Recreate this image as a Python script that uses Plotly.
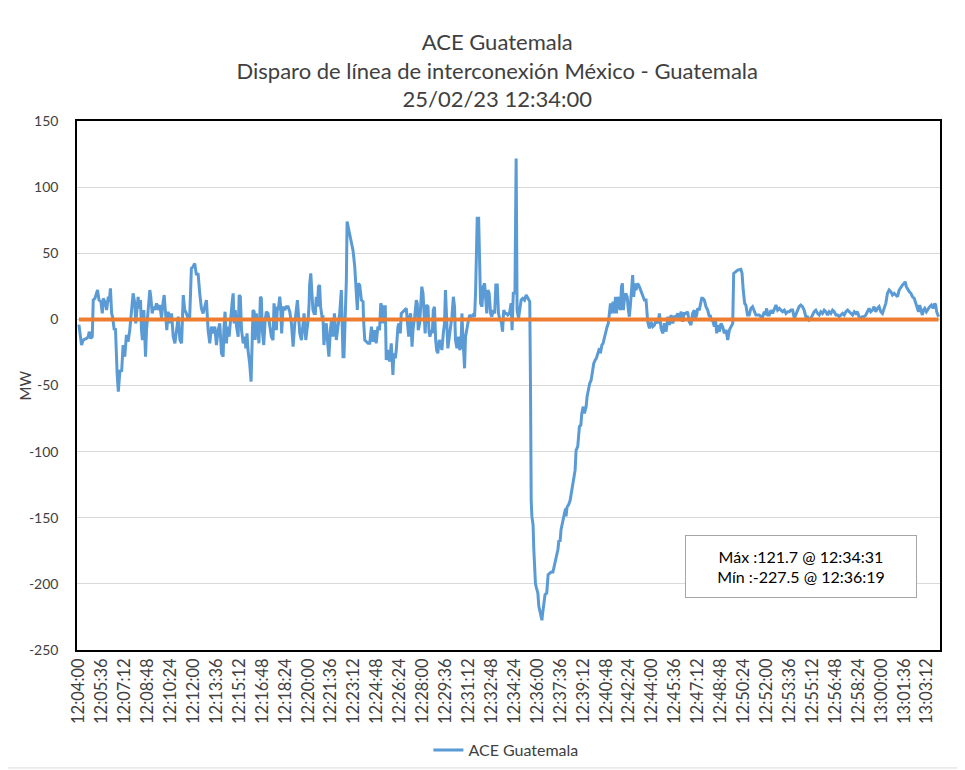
import pandas as pd
import plotly.graph_objects as go

start_time = "2023-02-25 12:04:00"

# seconds after 12:04:00 and ACE value (MW)
seconds = [
    0, 11, 18, 32, 39, 43, 49, 56, 60, 67, 78, 84, 92, 98, 102, 109, 116, 123, 127, 132, 137, 141, 148, 153,
    160, 165, 172, 179, 185, 192, 199, 206, 213, 220, 227, 234, 238, 243, 248, 252, 258, 262, 266, 272, 279,
    283, 290, 297, 301, 307, 312, 318, 325, 332, 339, 346, 350, 357, 363, 368, 374, 381, 388, 395, 402, 409,
    416, 423, 430, 437, 443, 450, 457, 464, 471, 478, 485, 492, 499, 506, 513, 520, 527, 534, 541, 548, 555,
    562, 569, 576, 583, 590, 597, 604,
    607, 612, 618, 622, 629, 636, 642, 646, 650, 655, 660, 667, 671, 676, 681, 688, 695, 699, 704, 708, 715,
    721, 725, 729, 734, 738, 743, 749, 754, 760, 764, 768, 774, 780, 785, 792, 799, 806, 813, 817, 821, 827,
    831, 835, 841, 845, 849, 855, 862, 869, 876, 883, 890, 897, 904, 911, 915, 920, 925, 932, 939, 943, 950,
    955, 960, 964, 966, 971, 975, 980, 985, 990, 994, 999, 1003, 1008, 1012, 1018, 1022, 1026, 1031, 1036,
    1043, 1047, 1053, 1058, 1064, 1070, 1074, 1078, 1085, 1092, 1099, 1103, 1106, 1110, 1116, 1120, 1123,
    1127, 1134, 1141, 1148, 1155, 1162, 1166, 1170, 1176, 1183, 1190, 1192, 1197, 1204, 1211,
    1218, 1225, 1232, 1238, 1245, 1252, 1259, 1264, 1269, 1273, 1277, 1283, 1287, 1294, 1301, 1308, 1315,
    1319, 1325, 1329, 1336, 1340, 1346, 1350, 1357, 1364, 1371, 1375, 1381, 1385, 1389, 1395, 1399, 1406,
    1413, 1417, 1421, 1427, 1431, 1436, 1441, 1445, 1450, 1455, 1462, 1466, 1470, 1476, 1480, 1484, 1489,
    1494, 1498, 1503, 1509, 1515, 1520, 1526, 1531, 1535, 1540, 1545, 1551, 1556, 1562, 1568, 1573, 1577,
    1583, 1590, 1595, 1600, 1604, 1608, 1612, 1615, 1619, 1623, 1629, 1636, 1643, 1650, 1657, 1661, 1665,
    1668, 1674, 1678, 1682, 1688, 1693, 1699, 1704, 1708, 1713, 1718, 1724, 1729, 1735, 1741, 1746, 1752,
    1757, 1763, 1768, 1774, 1779, 1785, 1791, 1796, 1803, 1810, 1814, 1819, 1826, 1831,
    1835, 1841, 1846, 1852, 1859, 1866, 1873, 1880, 1888, 1891, 1893, 1894, 1897, 1902, 1905, 1908, 1912,
    1916, 1922, 1926, 1931, 1936, 1939, 1941, 1947, 1952, 1959, 1965, 1971, 1978, 1985, 1992, 1999, 2006,
    2010, 2015, 2019, 2026, 2033, 2038, 2040, 2044, 2051, 2057, 2061, 2068, 2072, 2078, 2082, 2089, 2096,
    2102, 2106, 2112, 2117, 2124, 2128, 2134, 2139, 2145, 2151, 2156, 2162, 2167, 2173, 2177, 2180, 2184,
    2190, 2195, 2201, 2206, 2212, 2217, 2222, 2226, 2229, 2233, 2237, 2243, 2247, 2251, 2257, 2262, 2268,
    2272, 2276, 2280, 2284, 2290, 2296, 2301, 2305, 2309, 2315, 2319, 2323, 2329, 2333, 2340, 2347, 2354,
    2361, 2368,
    2375, 2382, 2389, 2396, 2403, 2410, 2417, 2424, 2431, 2438, 2445, 2452, 2459, 2466, 2473, 2480, 2487,
    2494, 2501, 2508, 2515, 2522, 2528, 2535, 2542, 2549, 2556, 2563, 2570, 2577, 2581, 2587, 2591, 2598,
    2602, 2608, 2612, 2619, 2626, 2633, 2640, 2644, 2648, 2654, 2661, 2665, 2671, 2675, 2682, 2689, 2696,
    2703, 2710, 2717, 2724, 2731, 2738, 2742, 2749, 2759, 2772, 2777, 2782, 2788, 2793, 2800, 2807, 2814,
    2821, 2828, 2835, 2842, 2849, 2856, 2863, 2870, 2874, 2880, 2885, 2891, 2898, 2905, 2912, 2919, 2926,
    2933, 2940, 2947, 2954, 2961, 2968, 2975, 2982,
    2989, 2996, 3002, 3009, 3016, 3023, 3030, 3037, 3044, 3051, 3058, 3065, 3072, 3079, 3086, 3093, 3100,
    3107, 3114, 3121, 3128, 3135, 3142, 3149, 3156, 3163, 3170, 3177, 3184, 3191, 3198, 3205, 3212, 3219,
    3226, 3233, 3240, 3247, 3254, 3260, 3267, 3274, 3281, 3288, 3295, 3302, 3309, 3316, 3323, 3330, 3337,
    3344, 3351, 3358, 3365, 3372, 3379, 3386, 3393, 3400, 3407, 3414, 3421, 3428, 3435, 3442, 3449, 3456,
    3460, 3465, 3471, 3477, 3484, 3491, 3498, 3504, 3511, 3516, 3521, 3525, 3532, 3537, 3542, 3549, 3556,
    3563, 3570, 3577, 3584, 3588, 3592, 3597, 3600,
]

ace_mw = [
    -4, -19.4, -15.6, -14.4, -13.1, -9.3, -14.4, -13.1, 14.6, 15.9, 22.2, 14.6, 13.4, 4.5, 15.9, 13.4, 7.1,
    17.1, 13.4, 23.4, 4.5, 2.0, -8.1, -6.8, -40.8, -54.7, -38.3, -39.6, -19.4, -28.2, -11.8, -16.9, -8.1,
    4.5, 19.7, 12.1, -3.0, 7.1, 17.1, 8.3, 14.6, -8.1, -15.6, 7.1, -28.2, -8.1, 7.1, 22.2, 17.1, 4.5, 9.6,
    7.1, 12.1, 7.1, 10.8, 0.8, 9.6, 18.4, 4.5, -8.1, 5.8, -3.0, 4.5, -13.1, -18.1, -8.1, 2.0, -15.6, -18.1,
    18.4, 7.1, 4.5, 0.8, 2.0, 38.6, 39.8, 42.3, 33.5, 34.8, 19.7, 8.3, 4.5, 9.6, 14.6, -8.1, -18.1, -5.5,
    -10.6, -5.5, -19.4, -8.1, -3.0, -25.7, -28.2,
    -8.1, 5.8, -18.1, -5.5, -13.1, 4.5, 13.4, 19.7, -3.0, 7.1, -5.5, -13.1, 18.4, 17.1, -8.1, -18.1, -13.1,
    -21.9, -10.6, -23.2, -33.3, -47.1, -20.6, 7.1, 5.8, -15.6, 4.5, -8.1, -18.1, 17.1, 15.9, -8.1, -19.4,
    -0.5, 5.8, 4.5, -3.0, -13.1, -15.6, 12.1, 5.8, -8.1, 9.6, 7.1, 17.1, 9.6, -10.6, 9.6, 7.1, 9.6, 9.6,
    5.8, -3.0, -20.6, -3.0, 7.1, 14.6, 2.0, -10.6, -15.6, -3.0, 4.5, -15.6, -8.1, -0.5, 12.1, 26.0, 34.8,
    17.1, 7.1, 4.5, 4.5, 17.1, 9.6, 24.7, 26.0, 9.6, 2.0, 2.0, -19.4, -8.1, -3.0, -20.6, -28.2, -8.1, -0.5,
    -13.1, 4.5, -5.5, -15.6, -5.5, 4.5, 22.2, -0.5, -28.2, -28.2, 4.5, 29.7, 74.0, 70.0, 64.0, 58.0, 52.0,
    40.0, 17.1, 7.1, 27.2, 25.9, 14.6, 13.4, -0.5, -15.6, -16.9, -18.1,
    -18.1, -5.5, -16.9, -8.1, -18.1, -5.5, -8.1, 12.1, 9.6, -3.0, 9.6, 9.6, -30.7, -23.2, -31.9, -18.1,
    -42.0, -25.7, -29.5, -23.2, -5.5, -3.0, -10.6, 4.5, 5.8, 7.1, 8.3, -0.5, -13.1, 2.0, 4.5, -20.6, -8.1,
    2.0, 14.6, 12.1, -8.1, -3.0, 9.6, 24.7, 19.7, -0.5, -10.6, 10.8, 9.6, -9.3, -13.1, -8.1, -10.6, 7.1,
    9.6, -15.6, -23.2, -25.7, -15.6, -18.1, -23.2, -10.6, -3.0, 22.2, 2.0, -21.9, -13.1, -5.5, 2.0, 17.1,
    9.6, -15.6, -21.9, -13.1, -23.2, -20.6, 4.5, -13.1, -23.2, -37.0, -13.1, -8.1, -3.0, 3.3, 2.0, 3.3, 2.0,
    19.7, 52.4, 76.4, 76.4, 50.0, 12.1, 9.6, 24.7, 27.2, 17.1, 4.5, 22.2, 19.7, 4.5, 2.0, 7.1, 4.5, 26.0,
    26.0, 4.5, -0.5, -0.5, -9.3, 7.1, 4.5, 4.5, 3.3, 4.5, 12.1, -8.1, 19.7, 20.0, 121.7,
    7.0, 0.8, 7.1, 14.6, 15.9, 14.6, 18.4, 15.9, 13.4, -48.0, -124.0, -137.0, -149.0, -155.5, -174.0,
    -187.0, -200.0, -203.0, -207.0, -217.0, -222.0, -226.0, -227.5, -223.6, -217.0, -208.0, -207.0,
    -193.0, -192.0, -191.0, -191.0, -186.0, -181.0, -174.0, -167.0, -168.0, -159.0, -154.0, -147.0,
    -143.0, -149.0, -142.0, -140.0, -137.0, -132.0, -127.0, -120.0, -114.0, -99.0, -96.0, -81.0, -80.0,
    -71.0, -66.0, -71.0, -66.0, -58.5, -53.0, -48.4, -46.0, -39.6, -33.3, -30.7, -29.5, -25.7, -23.2,
    -21.9, -25.7, -19.4, -18.1, -13.1, -8.1, -5.5, -3.0, 9.6, 12.1, 4.5, 9.6, 13.4, 4.5, 17.1, 4.5, 17.1,
    9.6, 7.1, 24.7, 27.2, 7.1, 14.6, 19.7, 17.1, 7.1, 2.0, 9.6, 24.7, 33.5, 17.1, 27.2, 22.2, 27.2, 24.7,
    20.9, 17.1, 14.6,
    14.6, -1.8, -6.8, -1.8, -5.5, -4.3, -0.5, -3.0, 4.5, -6.8, -10.6, -3.0, -9.3, 2.0, -4.3, 3.3, -3.0,
    2.0, 2.0, 4.5, 0.8, 5.8, -1.8, 4.5, 4.5, 5.8, -1.8, -4.3, 4.5, 7.0, 0.8, 3.3, 8.3, 7.0, 10.8, 15.9,
    15.9, 14.6, 9.6, 7.0, 2.0, 3.3, -0.5, -0.5, -5.5, 0.8, -10.6, -4.3, -9.3, -3.0, -5.5, -10.6, -8.0,
    -15.6, -8.0, -5.5, -3.0, 34.8, 36.0, 37.3, 37.8, 34.8, 22.2, 12.1, 10.8, 3.3, 3.3, 8.3, 9.6, 7.0, 3.3,
    3.3, 3.3, 2.0, 2.0, 5.8, 3.3, 8.3, 3.3, 3.3, 7.0, 4.5, 8.3, 10.8, 7.0, 8.3, 7.0, 5.8, 7.0, 4.5, 5.8,
    5.8, 7.0,
    7.0, 0.8, 3.3, 7.0, 9.6, 10.8, 9.6, 7.0, 2.0, 2.0, -0.5, 0.8, 3.3, 5.8, 7.0, 4.5, 3.3, 5.8, 4.5, 7.0,
    5.8, 3.3, 5.8, 4.5, 7.0, 5.8, 3.3, 3.3, 2.0, 3.3, 4.5, 3.3, 5.8, 7.0, 5.8, 4.5, 3.3, 5.8, 4.5, 5.8,
    2.0, 0.8, 2.0, 2.0, 3.3, 5.8, 8.3, 5.8, 7.0, 9.6, 5.8, 8.3, 9.6, 5.8, 4.5, 8.3, 12.1, 19.7, 22.2,
    21.0, 18.4, 19.7, 18.4, 17.1, 22.2, 24.7, 26.0, 27.2, 28.5, 24.7, 22.2, 21.0, 19.7, 17.1, 15.9, 12.1,
    9.6, 5.8, 10.8, 8.3, 3.3, 7.0, 8.3, 5.8, 8.3, 9.6, 10.8, 8.3, 12.1, 10.8, 5.8, 3.3, 2.0,
]

reference_secs = [0, 3600]
reference_mw = [0, 0]

y_ticks = [-250, -200, -150, -100, -50, 0, 50, 100, 150]
y_tick_labels = ["-250", "-200", "-150", "-100", "-50", "0", "50", "100", "150"]

series_name = "ACE Guatemala"
title_lines = ["ACE Guatemala", "Disparo de línea de interconexión México - Guatemala", "25/02/23 12:34:00"]
stats_lines = ["Máx :121.7 @ 12:34:31", "Mín :-227.5 @ 12:36:19"]
y_label = "MW"

t0 = pd.Timestamp(start_time)
times = t0 + pd.to_timedelta(seconds, unit="s")
ref_times = t0 + pd.to_timedelta(reference_secs, unit="s")

FONT = "Lato, 'Open Sans', sans-serif"
TXT = "#404040"

fig = go.Figure()
fig.add_trace(go.Scatter(x=times, y=ace_mw, mode="lines", name=series_name,
                         line=dict(color="#5B9BD5", width=3)))
fig.add_trace(go.Scatter(x=ref_times, y=reference_mw, mode="lines", showlegend=False,
                         line=dict(color="#ED7D31", width=4), hoverinfo="skip"))

fig.update_layout(
    width=965, height=770,
    margin=dict(l=69, r=33, t=113, b=128, autoexpand=False),
    paper_bgcolor="white", plot_bgcolor="white",
    font=dict(family=FONT, color=TXT, size=14),
    title=dict(text="<br>".join(title_lines), x=0.507, xref="container", xanchor="center",
               y=1 - 42 / 770, yref="container", yanchor="top",
               font=dict(family=FONT, size=22, color=TXT)),
    showlegend=True,
    legend=dict(orientation="h", x=0.497, xanchor="center", y=-0.189, yanchor="middle",
                font=dict(size=16, color=TXT)),
    xaxis=dict(type="date", automargin=False,
               range=[t0 - pd.Timedelta(seconds=8), t0 + pd.Timedelta(seconds=3606)],
               tick0=t0, dtick=96000, tickformat="%H:%M:%S", tickangle=-90,
               showgrid=False, showline=True, linecolor="black", linewidth=1.5, mirror=True,
               ticks="", tickfont=dict(size=16.5, color=TXT)),
    yaxis=dict(range=[-250, 150], tickvals=y_ticks, ticktext=y_tick_labels, automargin=False,
               showgrid=True, gridcolor="#D9D9D9", gridwidth=1,
               zeroline=False, showline=True, linecolor="black", linewidth=1.5, mirror=True,
               ticks="", tickfont=dict(size=14, color=TXT), ticklabelstandoff=14),
)

fig.add_annotation(
    xref="paper", yref="paper", x=-0.0603, y=0.5, xanchor="center", yanchor="middle",
    text=y_label, textangle=-90, showarrow=False, font=dict(size=15, color=TXT, family=FONT),
)

fig.add_annotation(
    xref="paper", yref="paper", x=0.839, y=0.158, xanchor="center", yanchor="middle",
    text="<br>".join(stats_lines), showarrow=False, align="center",
    font=dict(size=16, color="black", family=FONT),
    width=228, height=59, bordercolor="#A6A6A6", borderwidth=1, borderpad=1, bgcolor="white",
)

fig.add_shape(type="rect", xref="paper", yref="paper", x0=-0.0880, x1=1.0267, y0=-0.2230, y1=1.2270,
              line=dict(color="#D9D9D9", width=1), fillcolor="rgba(0,0,0,0)", layer="below")

fig.write_html("out.html")
